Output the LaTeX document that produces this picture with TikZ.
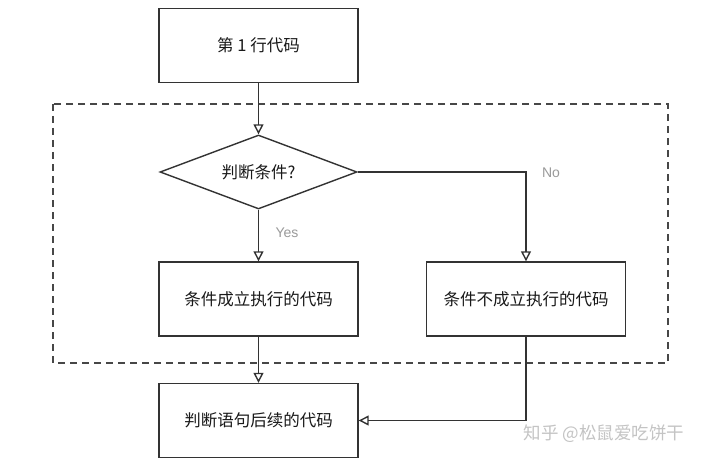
\documentclass[tikz,border=0pt]{standalone}
\usepackage{fontspec}
\setmainfont{Noto Sans CJK SC}
\newfontfamily\latinsans{Liberation Sans}
\usetikzlibrary{shapes.geometric,arrows.meta}
\definecolor{linec}{HTML}{333333}
\definecolor{labc}{HTML}{9A9A9A}
\definecolor{wmc}{HTML}{C4C4C4}
\tikzset{
  box/.style={draw=linec, line width=1.4pt, rectangle, inner sep=0pt, minimum width=199pt, minimum height=74pt, font=\fontsize{16.5pt}{18pt}\selectfont, text=black!90},
  decis/.style={draw=linec, line width=1.4pt, diamond, shape aspect=2.66, inner sep=0pt, minimum width=197pt, minimum height=74pt, font=\fontsize{16.5pt}{18pt}\selectfont, text=black!90},
  conn/.style={draw=linec, line width=1.4pt, -{Triangle[open, length=10pt, width=10pt, line width=1.4pt]}},
  lab/.style={text=labc, font=\latinsans\fontsize{14pt}{16pt}\selectfont},
  frame/.style={draw=linec!90, line width=1.4pt, dash pattern=on 7pt off 5pt},
}
\begin{document}
\begin{tikzpicture}[x=1pt, y=-1pt]
\useasboundingbox (0,0) rectangle (720,468);
\fill[white] (0,0) rectangle (720,468);
\draw[frame] (53,104) rectangle (668,363);
\node[box] (first) at (258.5,45.5) {第 1 行代码};
\node[decis] (cond) at (258.5,172) {判断条件?};
\node[box] (yesb) at (258.5,299) {条件成立执行的代码};
\node[box] (nob) at (526,299) {条件不成立执行的代码};
\node[box] (after) at (258.5,420.5) {判断语句后续的代码};
\coordinate (ncorner) at (526,172);
\coordinate (bcorner) at (526,420.5);
\draw[conn] (first) -- (cond);
\draw[conn] (cond) -- (yesb);
\draw[conn] (cond.east) -- (ncorner) -- (nob.north);
\draw[conn] (yesb) -- (after);
\draw[conn] (nob.south) -- (bcorner) -- (after.east);
\node[lab] (yeslab) at (287,233) {Yes};
\node[lab] (nolab) at (551,173) {No};
\node[text=wmc, font=\fontsize{17.5pt}{19pt}\selectfont] (wm) at (604,434) {知乎 @松鼠爱吃饼干};
\end{tikzpicture}
\end{document}
